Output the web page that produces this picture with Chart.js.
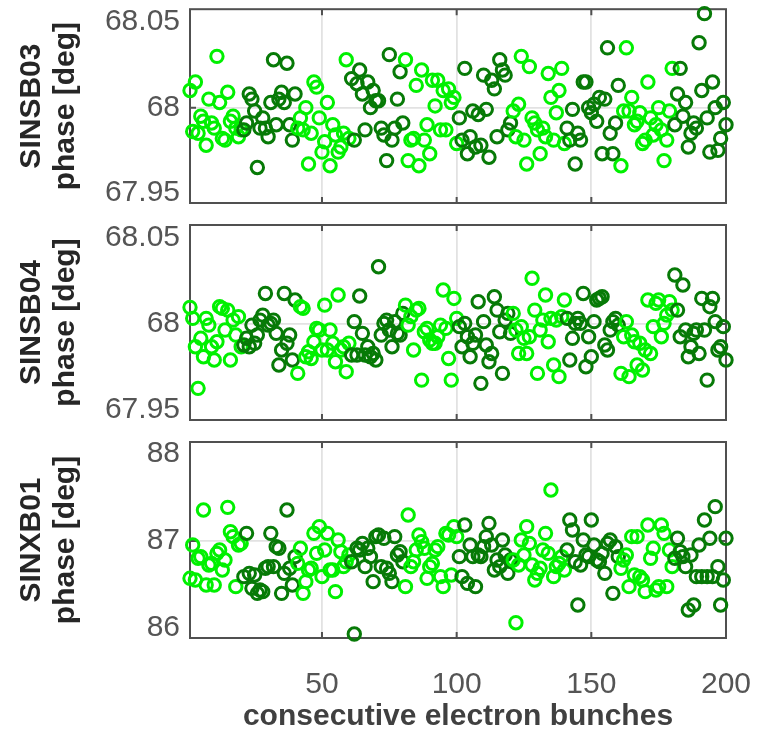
<!DOCTYPE html>
<html><head><meta charset="utf-8">
<script src="https://cdn.jsdelivr.net/npm/chart.js@4"></script>
<style>
html,body{margin:0;padding:0;background:#fff;}
#wrap{position:relative;width:763px;height:735px;overflow:hidden;}
canvas{position:absolute;left:0;}
</style></head><body>
<div id="wrap">
<canvas id="c1" width="763" height="215" style="top:0px"></canvas>
<canvas id="c2" width="763" height="215" style="top:215px"></canvas>
<canvas id="c3" width="763" height="305" style="top:430px"></canvas>
</div>
<script>
// ---- data ----
const bunchCount = 200;
const bunches = Array.from({length: bunchCount}, (_, i) => i + 1);   // consecutive bunch numbers 1..200
const xTicks = [50, 100, 150, 200];
const xTitle = 'consecutive electron bunches';

const sinsb03Ticks = [67.95, 68, 68.05];
const sinsb04Ticks = [67.95, 68, 68.05];
const sinxb01Ticks = [86, 87, 88];

const sinsb03Phase = [
  68.010,67.986,68.015,67.985,67.995,67.992,67.978,68.005,67.991,67.988,68.030,68.003,67.982,67.981,68.009,67.992,67.995,67.988,67.983,67.987,
  67.987,67.991,68.008,68.005,67.998,67.965,67.988,67.994,67.988,67.983,68.003,68.028,67.990,68.005,68.009,68.003,68.026,67.990,67.981,68.008,
  67.988,67.994,67.987,68.000,67.967,67.985,68.015,68.012,67.994,67.974,67.980,68.003,67.966,67.990,67.984,67.974,67.977,67.985,68.028,67.982,
  68.017,67.981,68.014,68.022,68.008,67.987,68.015,68.000,68.010,68.004,68.004,67.988,67.984,67.969,68.031,67.981,67.988,68.005,68.021,67.991,
  68.028,67.969,67.981,67.982,68.013,67.966,68.022,67.981,67.990,67.973,68.016,68.001,68.016,67.987,68.010,67.987,68.011,68.003,68.006,67.979,
  67.994,67.981,68.023,67.973,67.983,67.998,67.977,67.996,67.978,68.019,67.999,67.971,68.016,68.011,67.983,68.028,68.022,68.019,67.987,67.991,
  67.998,67.983,68.002,68.030,67.981,67.967,68.024,67.994,67.991,67.987,67.973,67.988,67.983,68.020,68.006,67.981,67.997,68.010,68.023,67.979,
  67.988,67.981,67.999,67.967,67.985,67.981,68.015,68.015,68.000,67.997,68.002,67.992,68.006,67.973,68.005,68.035,67.985,67.973,67.991,68.013,
  67.966,67.998,68.035,67.998,68.006,67.990,67.992,67.997,67.979,67.981,68.015,67.994,67.984,67.990,68.000,67.987,67.969,67.981,67.998,68.023,
  67.990,68.008,68.023,67.995,68.003,67.977,67.985,67.991,67.988,68.038,68.010,68.055,67.994,67.974,68.015,68.000,67.975,67.982,68.003,67.990
];
const sinsb04Phase = [
  68.0097,68.0033,67.9868,67.9626,67.9917,67.9810,68.0033,67.9994,67.9868,67.9791,67.9897,68.0101,68.0091,67.9965,68.0081,67.9791,68.0023,67.9936,68.0043,67.9868,
  67.9878,67.9917,67.9868,67.9994,67.9888,67.9936,68.0023,68.0052,68.0178,67.9994,68.0004,68.0023,67.9946,67.9762,67.9849,68.0178,67.9888,67.9936,67.9791,68.0140,
  67.9713,68.0101,68.0091,67.9810,67.9839,67.9800,67.9897,67.9975,67.9965,67.9849,68.0110,67.9849,67.9965,67.9888,67.9781,68.0169,67.9849,67.9868,67.9723,67.9888,
  67.9820,68.0014,67.9820,68.0163,67.9946,67.9820,67.9868,67.9810,67.9829,67.9791,68.0333,67.9936,68.0004,68.0023,67.9965,67.9868,68.0014,67.9946,67.9936,68.0062,
  68.0110,67.9994,68.0043,67.9849,68.0081,68.0091,67.9674,67.9955,67.9975,67.9907,67.9888,67.9888,67.9926,67.9994,68.0198,67.9975,67.9800,67.9674,68.0149,68.0033,
  67.9985,67.9868,68.0004,67.9926,67.9810,67.9888,67.9936,68.0130,67.9655,68.0014,67.9878,67.9781,67.9829,68.0159,68.0081,67.9955,67.9713,68.0023,68.0062,67.9946,
  68.0062,67.9965,67.9829,67.9985,67.9917,67.9829,67.9926,68.0266,68.0081,67.9713,67.9965,68.0023,68.0169,67.9897,68.0033,67.9762,68.0023,67.9694,68.0043,68.0140,
  68.0033,67.9791,67.9917,68.0004,68.0033,68.0004,68.0178,67.9752,67.9926,67.9810,68.0014,68.0140,68.0149,68.0159,67.9878,67.9849,67.9965,68.0014,68.0033,67.9994,
  67.9713,67.9926,68.0014,67.9694,67.9936,67.9897,67.9762,67.9888,67.9733,67.9849,68.0140,67.9829,67.9985,68.0120,68.0140,67.9926,68.0004,68.0052,68.0130,68.0081,
  68.0285,68.0081,67.9926,68.0227,67.9965,67.9810,67.9868,67.9946,67.9965,67.9829,68.0149,67.9965,67.9674,68.0101,68.0149,68.0014,67.9849,67.9868,67.9985,67.9791
];
const sinxb01Phase = [
  86.571,86.954,86.552,86.801,86.820,87.356,86.494,86.724,86.743,86.494,86.858,86.897,86.667,86.782,87.387,87.107,87.050,86.475,86.954,86.973,
  86.590,87.088,86.628,86.456,86.609,86.398,86.437,86.418,86.686,86.705,87.088,86.705,86.935,86.916,86.398,86.628,87.356,86.686,86.494,86.820,
  86.743,86.916,86.398,86.533,86.667,86.686,87.088,86.858,87.165,86.590,86.897,87.088,86.667,86.667,86.418,87.011,86.877,86.705,86.762,86.839,
  86.762,85.931,86.916,86.897,86.973,86.705,86.916,86.820,86.533,87.050,87.069,86.705,87.031,86.686,86.628,86.533,87.050,86.839,86.877,86.762,
  86.475,87.299,86.705,86.762,86.897,87.069,86.992,86.916,86.571,86.705,86.743,86.897,86.935,86.590,86.475,87.088,87.069,86.609,87.165,87.050,
  86.820,86.590,87.184,86.513,86.954,86.820,86.475,86.839,86.820,86.935,87.050,87.203,86.954,86.667,86.782,86.705,87.011,86.839,86.628,86.782,
  86.782,86.061,86.724,87.011,86.839,87.165,86.973,86.724,86.552,86.628,86.686,86.897,87.088,86.858,87.586,86.590,86.705,86.743,86.820,86.667,
  86.897,87.241,87.126,86.762,86.264,86.724,87.011,86.839,86.820,87.241,86.954,86.782,86.762,86.858,86.628,86.973,87.011,86.398,86.935,86.820,
  86.686,86.782,86.839,86.475,87.050,86.609,87.050,86.590,86.552,86.418,87.184,86.801,86.916,86.437,86.475,87.184,87.088,86.475,86.897,86.705,
  86.801,87.031,86.877,86.820,86.705,86.207,86.839,86.264,86.590,86.954,86.590,87.241,86.590,87.031,86.590,87.395,86.705,86.264,86.552,87.031
];

// ---- style ----
const groupSize = 20;                       // bunches alternate colour every 20
const groupColors = ['#00f000', '#077a07'];
const FONT = '"Liberation Sans", Arial, Helvetica, sans-serif';
const axisColor = '#505050';
const tickColor = '#555555';
const titleColor = '#262626';
const gridColor = '#e2e2e2';

const boxPlugin = {
  id: 'box',
  beforeDatasetsDraw(chart, args, opts) {
    const {ctx, chartArea: a, scales: {x, y}} = chart;
    ctx.save();
    ctx.strokeStyle = axisColor;
    ctx.lineWidth = 2;
    ctx.beginPath();
    const tl = 6;
    xTicks.forEach(v => {
      if (v > x.min && v < x.max) {
        const px = x.getPixelForValue(v);
        ctx.moveTo(px, a.top); ctx.lineTo(px, a.top + tl);
        ctx.moveTo(px, a.bottom); ctx.lineTo(px, a.bottom - tl);
      }
    });
    const py = y.getPixelForValue(opts.mid);
    ctx.moveTo(a.left, py); ctx.lineTo(a.left + tl, py);
    ctx.moveTo(a.right, py); ctx.lineTo(a.right - tl, py);
    ctx.stroke();
    ctx.strokeRect(a.left, a.top, a.right - a.left, a.bottom - a.top);
    ctx.restore();
  }
};

function makePanel(id, name, values, yTicks, yMin, yMax, padTop, xAxisH, showX) {
  const mid = yTicks[1];
  return new Chart(document.getElementById(id), {
    type: 'scatter',
    data: {
      datasets: [{
        data: bunches.map((b, i) => ({x: b, y: values[i]})),
        pointStyle: 'circle',
        pointRadius: 6.2,
        pointHoverRadius: 6.2,
        pointBorderWidth: 3,
        pointBackgroundColor: 'rgba(0,0,0,0)',
        pointBorderColor: ctx => groupColors[Math.floor(ctx.dataIndex / groupSize) % 2],
        clip: false
      }]
    },
    options: {
      responsive: false,
      animation: false,
      events: [],
      layout: {padding: {top: padTop, right: 37, left: 0, bottom: 0}},
      plugins: {legend: {display: false}, tooltip: {enabled: false}, box: {mid}},
      scales: {
        x: {
          type: 'linear', min: 1, max: 200,
          afterBuildTicks: s => { s.ticks = xTicks.map(v => ({value: v})); },
          afterFit: s => { s.height = xAxisH; s.paddingLeft = 0; s.paddingRight = 0; s.paddingTop = 0; s.paddingBottom = 0; },
          grid: {
            color: c => (c.tick && c.tick.value < 200) ? gridColor : 'rgba(0,0,0,0)',
            lineWidth: 1.8, drawTicks: false
          },
          border: {display: false},
          ticks: {display: showX, padding: 29, color: tickColor, font: {family: FONT, size: 30}, maxRotation: 0, autoSkip: false},
          title: {display: showX, text: xTitle, color: '#404040', font: {family: FONT, size: 30, weight: 'bold', lineHeight: 1.15}, padding: {top: 0, bottom: 1}}
        },
        y: {
          min: yMin, max: yMax,
          afterBuildTicks: s => { s.ticks = yTicks.map(v => ({value: v})); },
          afterFit: s => { s.width = 190; s.paddingTop = 0; s.paddingBottom = 0; s.paddingLeft = 0; s.paddingRight = 0; },
          grid: {
            color: c => (c.tick && c.tick.value === mid) ? gridColor : 'rgba(0,0,0,0)',
            lineWidth: 1.8, drawTicks: false
          },
          border: {display: false},
          ticks: {padding: 10, color: tickColor, font: {family: FONT, size: 30}, callback: v => String(v)},
          title: {display: true, text: [name, 'phase [deg]'], color: titleColor, font: {family: FONT, size: 30, weight: 'bold', lineHeight: 1.12}, padding: {top: 15, bottom: 0}}
        }
      }
    },
    plugins: [boxPlugin]
  });
}

makePanel('c1', 'SINSB03', sinsb03Phase, sinsb03Ticks, 67.9442, 68.0576, 8, 12, false);
makePanel('c2', 'SINSB04', sinsb04Phase, sinsb04Ticks, 67.9442, 68.0576, 10, 10, false);
makePanel('c3', 'SINXB01', sinxb01Phase, sinxb01Ticks, 85.885, 88.138, 12, 97, true);
</script>
</body></html>
